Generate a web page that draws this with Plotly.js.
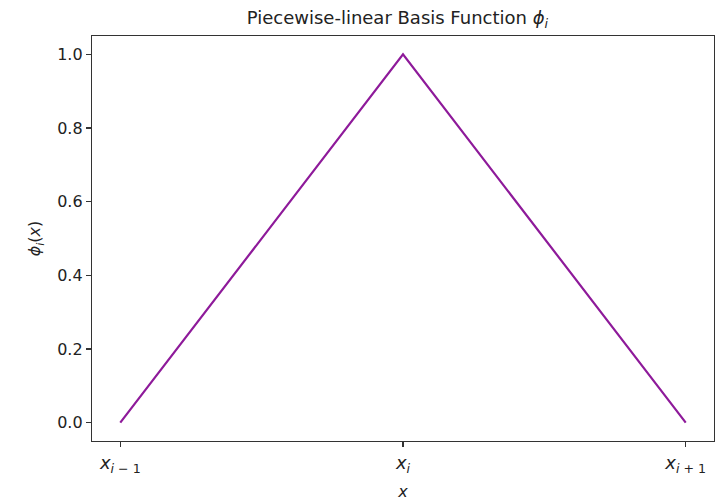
<!DOCTYPE html>
<html>
<head>
<meta charset="utf-8">
<script src="https://cdn.plot.ly/plotly-3.0.1.min.js"></script>
<style>
  html, body { margin: 0; padding: 0; background: #fff; }
  #chart { width: 716px; height: 501px; }
</style>
</head>
<body>
<div id="chart"></div>
<script>
// Nodes of the hat function and its values there
const nodes = [0, 1, 2];
const phiValues = [0, 1, 0];
const nodeLabels = [
  '<i>x</i><sub><i>i</i> \u2212 1</sub>',
  '<i>x</i><sub><i>i</i></sub>',
  '<i>x</i><sub><i>i</i> + 1</sub>'
];
const yTicks = [0, 0.2, 0.4, 0.6, 0.8, 1.0];
const yTickLabels = ['0.0', '0.2', '0.4', '0.6', '0.8', '1.0'];

const font = { family: 'DejaVu Sans, sans-serif', size: 16, color: '#222' };
const xTickFont = { family: 'DejaVu Sans, sans-serif', size: 18, color: '#222' };

const trace = {
  x: nodes,
  y: phiValues,
  type: 'scatter',
  mode: 'lines',
  line: { color: '#8e1a9a', width: 2.2 },
  hoverinfo: 'skip'
};

const axisCommon = {
  showgrid: false,
  zeroline: false,
  showline: true,
  mirror: true,
  linecolor: '#333',
  linewidth: 1.2,
  ticks: 'outside',
  ticklen: 5,
  tickwidth: 1.2,
  tickcolor: '#333',
  tickfont: font
};

const layout = {
  width: 716,
  height: 501,
  margin: { l: 92, r: 2, t: 36, b: 60 },
  paper_bgcolor: '#fff',
  plot_bgcolor: '#fff',
  font: font,
  showlegend: false,
  title: {
    text: 'Piecewise-linear Basis Function <i>\u03d5</i><sub><i>i</i></sub>',
    font: { family: 'DejaVu Sans, sans-serif', size: 18, color: '#222' },
    x: 0.555, xanchor: 'center',
    y: 0.965, yanchor: 'middle'
  },
  xaxis: Object.assign({}, axisCommon, {
    range: [-0.1, 2.1],
    tickmode: 'array',
    tickvals: nodes,
    ticktext: nodeLabels,
    tickfont: xTickFont,
    title: { text: '<i>x</i>', font: font, standoff: 12 }
  }),
  yaxis: Object.assign({}, axisCommon, {
    range: [-0.05, 1.05],
    tickmode: 'array',
    tickvals: yTicks,
    ticktext: yTickLabels,
    title: { text: '<i>\u03d5</i><sub><i>i</i></sub>(<i>x</i>)', font: font, standoff: 12 }
  })
};

Plotly.newPlot('chart', [trace], layout, { staticPlot: true, displayModeBar: false });
</script>
</body>
</html>
